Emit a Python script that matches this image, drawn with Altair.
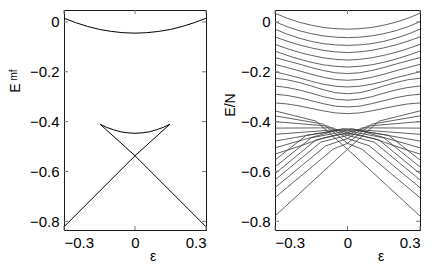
import altair as alt
import pandas as pd

# ---------------- data ----------------
X_TICKS = [-0.3, 0.0, 0.3]
Y_TICKS = [0.0, -0.2, -0.4, -0.6, -0.8]

# left panel: mean-field levels
mf_upper_eps = [-0.3, -0.25, -0.2, -0.15, -0.1, -0.05, 0.0, 0.05, 0.1, 0.15, 0.2, 0.25, 0.3]
mf_upper_E = [0.015, -0.003, -0.018, -0.030, -0.038, -0.043, -0.045,
              -0.043, -0.038, -0.030, -0.018, -0.003, 0.015]
mf_lineA_eps = [-0.3, 0.0, 0.148]
mf_lineA_E = [-0.822, -0.537, -0.41]
mf_lineB_eps = [-0.148, 0.0, 0.3]
mf_lineB_E = [-0.41, -0.537, -0.822]
mf_arc_eps = [-0.148, -0.12, -0.09, -0.06, -0.03, 0.0, 0.03, 0.06, 0.09, 0.12, 0.148]
mf_arc_E = [-0.41, -0.423, -0.433, -0.441, -0.445, -0.447, -0.445, -0.441, -0.433, -0.423, -0.41]

# right panel: symmetric levels, left half read at these eps (mirrored to eps > 0)
band_eps_half = [-0.3, -0.25, -0.2, -0.15, -0.1, -0.05, 0.0]
band_levels = [
    [0.035, 0.015, -0.001, -0.013, -0.022, -0.027, -0.029],
    [0.001, -0.019, -0.035, -0.047, -0.056, -0.061, -0.063],
    [-0.029, -0.049, -0.065, -0.078, -0.087, -0.092, -0.094],
    [-0.060, -0.077, -0.092, -0.104, -0.114, -0.120, -0.123],
    [-0.090, -0.107, -0.122, -0.134, -0.144, -0.150, -0.153],
    [-0.117, -0.134, -0.149, -0.162, -0.172, -0.178, -0.181],
    [-0.143, -0.156, -0.169, -0.183, -0.195, -0.204, -0.207],
    [-0.170, -0.183, -0.196, -0.210, -0.222, -0.231, -0.234],
    [-0.200, -0.212, -0.224, -0.238, -0.250, -0.258, -0.261],
    [-0.226, -0.232, -0.243, -0.257, -0.272, -0.284, -0.288],
    [-0.257, -0.263, -0.273, -0.286, -0.300, -0.310, -0.314],
    [-0.290, -0.295, -0.304, -0.316, -0.328, -0.338, -0.341],
    [-0.325, -0.329, -0.337, -0.347, -0.357, -0.365, -0.368],
    [-0.530, -0.515, -0.499, -0.482, -0.466, -0.454, -0.448],
]
# right panel: rising lines (eps -0.3 .. 0.3); a mirrored copy of each is drawn too
fan_eps = [
    [-0.3, -0.10, 0.0, 0.13, 0.3],
    [-0.3, -0.06, 0.0, 0.10, 0.3],
    [-0.3, -0.09, 0.0, 0.08, 0.3],
    [-0.3, -0.11, 0.0, 0.06, 0.3],
    [-0.3, -0.13, 0.0, 0.04, 0.3],
    [-0.3, -0.15, 0.0, 0.03, 0.3],
    [-0.3, -0.17, 0.0, 0.02, 0.3],
]
fan_E = [
    [-0.779, -0.600, -0.511, -0.398, -0.357],
    [-0.705, -0.511, -0.487, -0.410, -0.377],
    [-0.665, -0.497, -0.468, -0.418, -0.400],
    [-0.634, -0.482, -0.455, -0.425, -0.426],
    [-0.609, -0.473, -0.445, -0.432, -0.451],
    [-0.582, -0.465, -0.437, -0.432, -0.478],
    [-0.554, -0.455, -0.430, -0.428, -0.505],
]

# ---------------- tables ----------------
rows = []
def add(panel, lid, eps, E):
    for i, (x, y) in enumerate(zip(eps, E)):
        rows.append(dict(panel=panel, lid=lid, o=i, eps=x, E=y))

add("mf", "u", mf_upper_eps, mf_upper_E)
add("mf", "a", mf_lineA_eps, mf_lineA_E)
add("mf", "b", mf_lineB_eps, mf_lineB_E)
add("mf", "arc", mf_arc_eps, mf_arc_E)

for k, lev in enumerate(band_levels):
    eps_full = band_eps_half + [-e for e in band_eps_half[-2::-1]]
    E_full = lev + lev[-2::-1]
    add("qn", f"b{k}", eps_full, E_full)
for k, (eps, E) in enumerate(zip(fan_eps, fan_E)):
    add("qn", f"f{k}", eps, E)
    add("qn", f"fm{k}", [-e for e in eps], E)

df = pd.DataFrame(rows)
ticks_y = pd.DataFrame({"v": Y_TICKS})
ticks_x = pd.DataFrame({"v": X_TICKS})
one = pd.DataFrame({"v": [0]})

W1, W2, H = 142, 145, 220
YDOM = [-0.835, 0.048]
FONT = "Liberation Sans"
LBL = "datum.value == 0 ? '0' : format(datum.value, '.1f')"


def panel(key, W, color, sw, ytitle_marks, eps_x):
    xs = alt.Scale(domain=[-0.3, 0.3], nice=False, zero=False)
    ys = alt.Scale(domain=YDOM, nice=False, zero=False)
    ax = alt.Axis(values=X_TICKS, title=None, ticks=False, domain=False, grid=False,
                  labelFont=FONT, labelFontSize=15, labelColor="black", labelPadding=5,
                  labelExpr=LBL)
    ay = alt.Axis(values=Y_TICKS, title=None, ticks=False, domain=False, grid=False,
                  labelFont=FONT, labelFontSize=15, labelColor="black", labelPadding=5,
                  labelExpr=LBL)
    lines = alt.Chart(df[df.panel == key]).mark_line(
        color=color, strokeWidth=sw, clip=True
    ).encode(
        x=alt.X("eps:Q", scale=xs, axis=ax),
        y=alt.Y("E:Q", scale=ys, axis=ay),
        detail="lid:N",
        order="o:Q",
    )
    tl = alt.Chart(ticks_y).mark_rule(color="#777", strokeWidth=1).encode(
        y=alt.Y("v:Q", scale=ys, axis=ay), x=alt.value(0), x2=alt.value(4))
    tr = alt.Chart(ticks_y).mark_rule(color="#777", strokeWidth=1).encode(
        y=alt.Y("v:Q", scale=ys, axis=ay), x=alt.value(W - 4), x2=alt.value(W))
    tb = alt.Chart(ticks_x).mark_rule(color="#777", strokeWidth=1).encode(
        x=alt.X("v:Q", scale=xs, axis=ax), y=alt.value(H - 4), y2=alt.value(H))
    tt = alt.Chart(ticks_x).mark_rule(color="#777", strokeWidth=1).encode(
        x=alt.X("v:Q", scale=xs, axis=ax), y=alt.value(0), y2=alt.value(4))
    eps_t = alt.Chart(one).mark_text(
        text="ε", font=FONT, fontSize=14, color="black", baseline="middle", align="center"
    ).encode(x=alt.value(eps_x), y=alt.value(H + 27))
    return alt.layer(lines, tl, tr, tb, tt, eps_t, *ytitle_marks).properties(width=W, height=H)


left_title = [
    alt.Chart(one).mark_text(
        text="E", font=FONT, fontSize=14, angle=270, color="black",
        baseline="middle", align="center").encode(x=alt.value(-48), y=alt.value(78)),
    alt.Chart(one).mark_text(
        text="mf", font=FONT, fontSize=10, angle=270, color="black",
        baseline="middle", align="center").encode(x=alt.value(-50), y=alt.value(65)),
]
right_title = [
    alt.Chart(one).mark_text(
        text="E/N", font=FONT, fontSize=14, angle=270, color="black",
        baseline="middle", align="center").encode(x=alt.value(-44), y=alt.value(95)),
]

left = panel("mf", W1, "black", 1.0, left_title, 89)
right = panel("qn", W2, "#3a3a3a", 0.8, right_title, 106)

chart = alt.hconcat(left, right, spacing=69, bounds="flush").properties(
    padding={"left": 0, "top": 1, "right": 0, "bottom": 0}
).configure_view(stroke="#1a1a1a", strokeWidth=1)

chart.save("out.html", embed_options={"renderer": "svg", "actions": False})
